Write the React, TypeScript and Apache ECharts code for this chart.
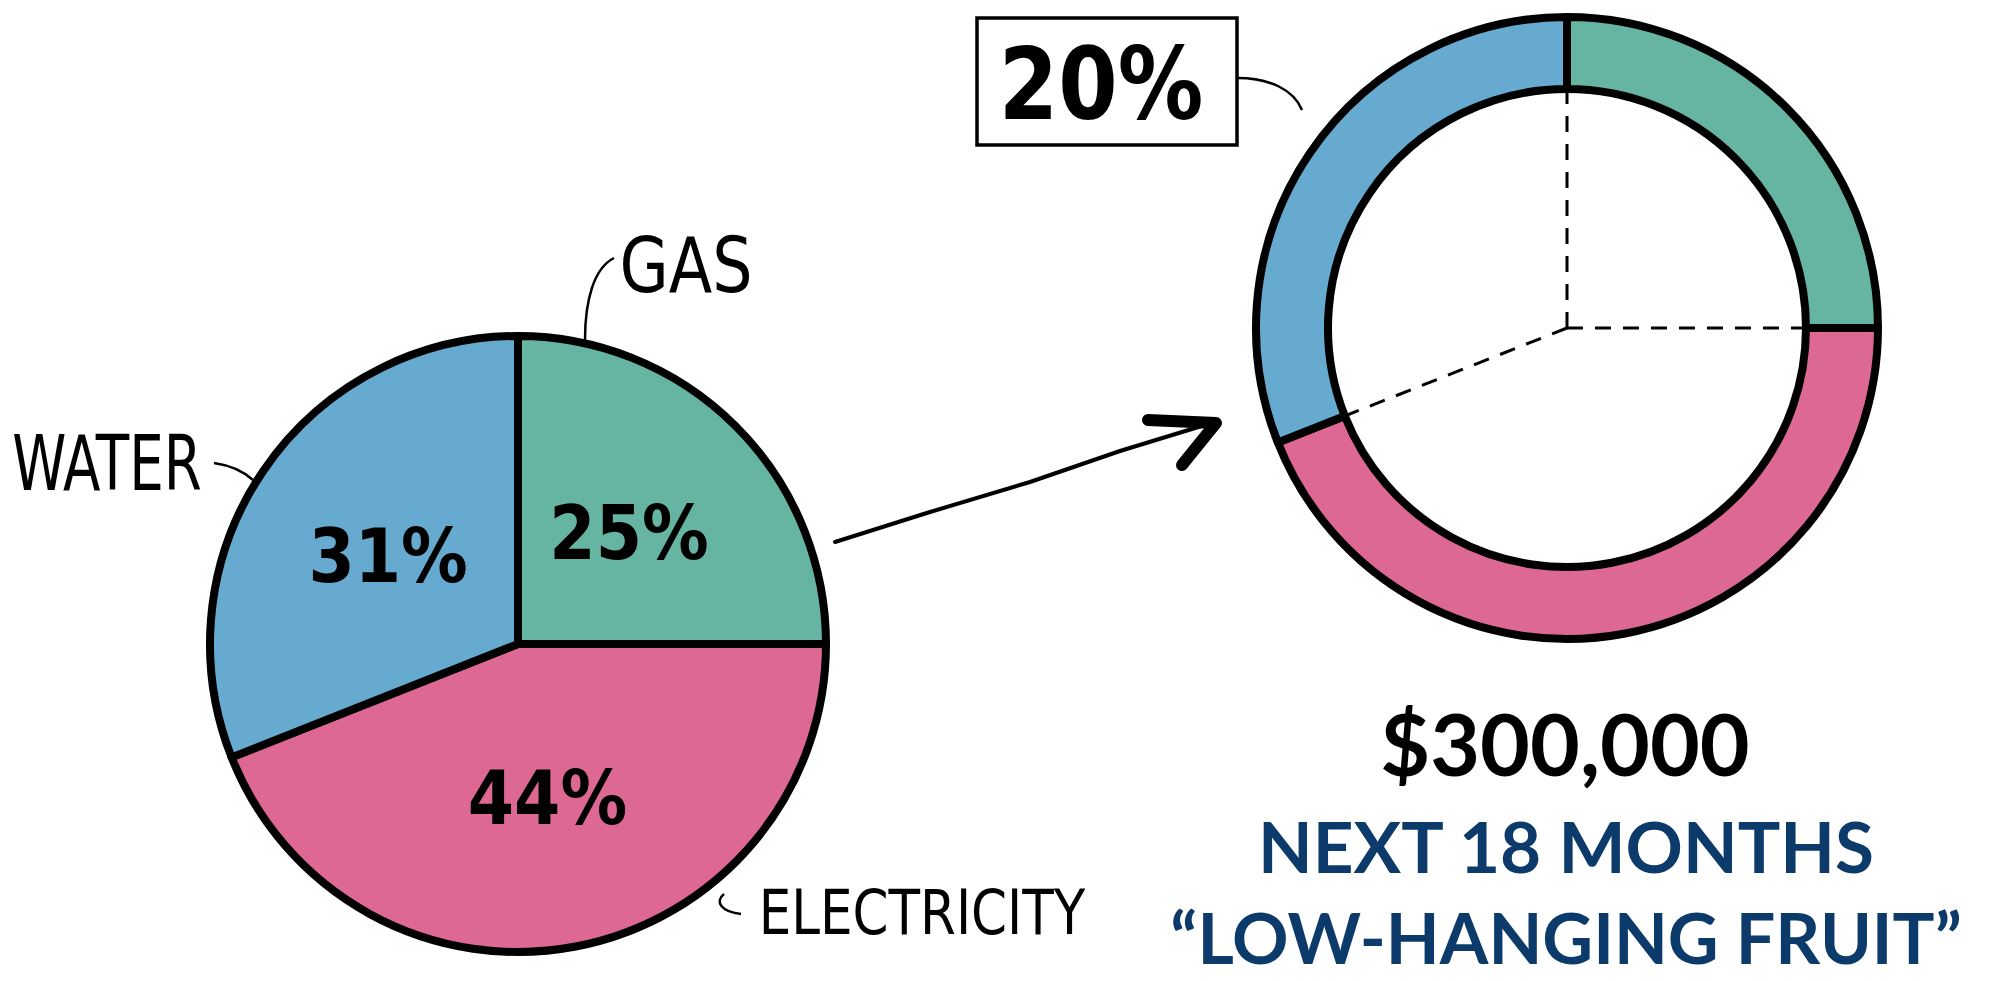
import React, { useEffect, useRef } from "react";
import * as echarts from "echarts";

// ---- data ----
const categories = ["GAS", "ELECTRICITY", "WATER"];
const shareValues = [25, 44, 31];
const sliceColors = ["#66b5a3", "#dd6893", "#67aacf"];
const savingsLabel = "20%";
const headline = "$300,000";
const subline1 = "NEXT 18 MONTHS";
const subline2 = "\u201cLOW-HANGING FRUIT\u201d";

const HAND = '"DejaVu Sans Condensed", "Liberation Sans", sans-serif';
const BOLD = 'Lato, "Open Sans", sans-serif';

export default function App() {
  const ref = useRef<HTMLDivElement>(null);

  useEffect(() => {
    document.body.style.margin = "0";
    if (!ref.current) return;
    const chart = echarts.init(ref.current, undefined, { renderer: "svg" });

    const pieData = categories.map((name, i) => ({
      name,
      value: shareValues[i],
      itemStyle: { color: sliceColors[i] },
    }));

    const donutCenter = [1567, 328];
    const innerR = 239;
    const outerR = 311;

    // dashed spokes along the slice boundaries inside the donut hole
    const total = shareValues.reduce((a, b) => a + b, 0);
    let acc = 0;
    const spokes: any[] = shareValues.map((v) => {
      const ang = (Math.PI / 2) - (acc / total) * Math.PI * 2; // clockwise from 12 o'clock
      acc += v;
      return {
        type: "line",
        z: 1,
        shape: {
          x1: donutCenter[0],
          y1: donutCenter[1],
          x2: donutCenter[0] + innerR * Math.cos(ang),
          y2: donutCenter[1] - innerR * Math.sin(ang),
        },
        style: { stroke: "#000", lineWidth: 3, lineDash: [16, 12] },
      };
    });

    const option: any = {
      animation: false,
      backgroundColor: "#ffffff",
      series: [
        {
          type: "pie",
          center: [518, 644],
          radius: 308,
          startAngle: 90,
          clockwise: true,
          silent: true,
          z: 2,
          data: pieData,
          itemStyle: { borderColor: "#000", borderWidth: 8, borderJoin: "round" },
          label: {
            show: true,
            position: "inside",
            formatter: "{c}%",
            color: "#000",
            fontSize: 74,
            fontWeight: "bold",
            fontFamily: HAND,
          },
          labelLine: { show: false },
          emphasis: { disabled: true },
        },
        {
          type: "pie",
          center: donutCenter,
          radius: [innerR, outerR],
          startAngle: 90,
          clockwise: true,
          silent: true,
          z: 2,
          data: pieData,
          itemStyle: { borderColor: "#000", borderWidth: 8, borderJoin: "round" },
          label: { show: false },
          labelLine: { show: false },
          emphasis: { disabled: true },
        },
      ],
      graphic: [
        ...spokes,
        // category names (handwritten style)
        {
          type: "text", x: 686, y: 266, z: 10, scaleX: 0.93,
          style: { text: categories[0], fontSize: 76, fontFamily: HAND, fill: "#000", align: "center", verticalAlign: "middle" },
        },
        {
          type: "text", x: 107, y: 463, z: 10, scaleX: 0.8,
          style: { text: categories[2], fontSize: 76, fontFamily: HAND, fill: "#000", align: "center", verticalAlign: "middle" },
        },
        {
          type: "text", x: 922, y: 912, z: 10, scaleX: 0.91,
          style: { text: categories[1], fontSize: 63, fontFamily: HAND, fill: "#000", align: "center", verticalAlign: "middle" },
        },
        // leader lines
        {
          type: "bezierCurve", z: 10,
          shape: { x1: 614, y1: 258, cpx1: 594, cpy1: 268, cpx2: 585, cpy2: 300, x2: 585, y2: 340 },
          style: { stroke: "#000", lineWidth: 2.5, fill: null },
        },
        {
          type: "bezierCurve", z: 10,
          shape: { x1: 214, y1: 463, cpx1: 228, cpy1: 465, cpx2: 242, cpy2: 470, x2: 253, y2: 480 },
          style: { stroke: "#000", lineWidth: 2.5, fill: null },
        },
        {
          type: "bezierCurve", z: 10,
          shape: { x1: 724, y1: 894, cpx1: 714, cpy1: 902, cpx2: 722, cpy2: 912, x2: 741, y2: 914 },
          style: { stroke: "#000", lineWidth: 2.5, fill: null },
        },
        // arrow
        {
          type: "polyline", z: 10,
          shape: { points: [[835, 542], [930, 512], [1030, 482], [1120, 451], [1205, 425]] },
          style: { stroke: "#000", lineWidth: 4, fill: null, lineCap: "round" },
        },
        {
          type: "polyline", z: 10,
          shape: { points: [[1148, 420], [1216, 423], [1182, 465]] },
          style: { stroke: "#000", lineWidth: 12, fill: null, lineCap: "round", lineJoin: "round" },
        },
        // 20% callout
        {
          type: "rect", z: 10,
          shape: { x: 977, y: 18, width: 260, height: 127 },
          style: { stroke: "#000", lineWidth: 3.5, fill: "#fff" },
        },
        {
          type: "text", x: 1101, y: 84, z: 11, scaleX: 0.95,
          style: { text: savingsLabel, fontSize: 100, fontWeight: "bold", fontFamily: HAND, fill: "#000", align: "center", verticalAlign: "middle" },
        },
        {
          type: "bezierCurve", z: 10,
          shape: { x1: 1237, y1: 78, cpx1: 1270, cpy1: 78, cpx2: 1294, cpy2: 90, x2: 1302, y2: 110 },
          style: { stroke: "#000", lineWidth: 2.5, fill: null },
        },
        // headline texts
        {
          type: "text", x: 1565, y: 742, z: 10,
          style: { text: headline, fontSize: 86, lineHeight: 86, fontWeight: "bold", fontFamily: BOLD, fill: "#000", align: "center", verticalAlign: "middle" },
        },
        {
          type: "text", x: 1566, y: 845, z: 10,
          style: { text: subline1, fontSize: 71, lineHeight: 71, fontWeight: "bold", fontFamily: BOLD, fill: "#0c3a6b", align: "center", verticalAlign: "middle" },
        },
        {
          type: "text", x: 1566, y: 937, z: 10,
          style: { text: subline2, fontSize: 70, lineHeight: 70, fontWeight: "bold", fontFamily: BOLD, fill: "#0c3a6b", align: "center", verticalAlign: "middle" },
        },
      ],
    };

    chart.setOption(option);
    return () => chart.dispose();
  }, []);

  return (
    <div
      ref={ref}
      style={{ position: "fixed", left: 0, top: 0, width: "1997px", height: "981px" }}
    />
  );
}
